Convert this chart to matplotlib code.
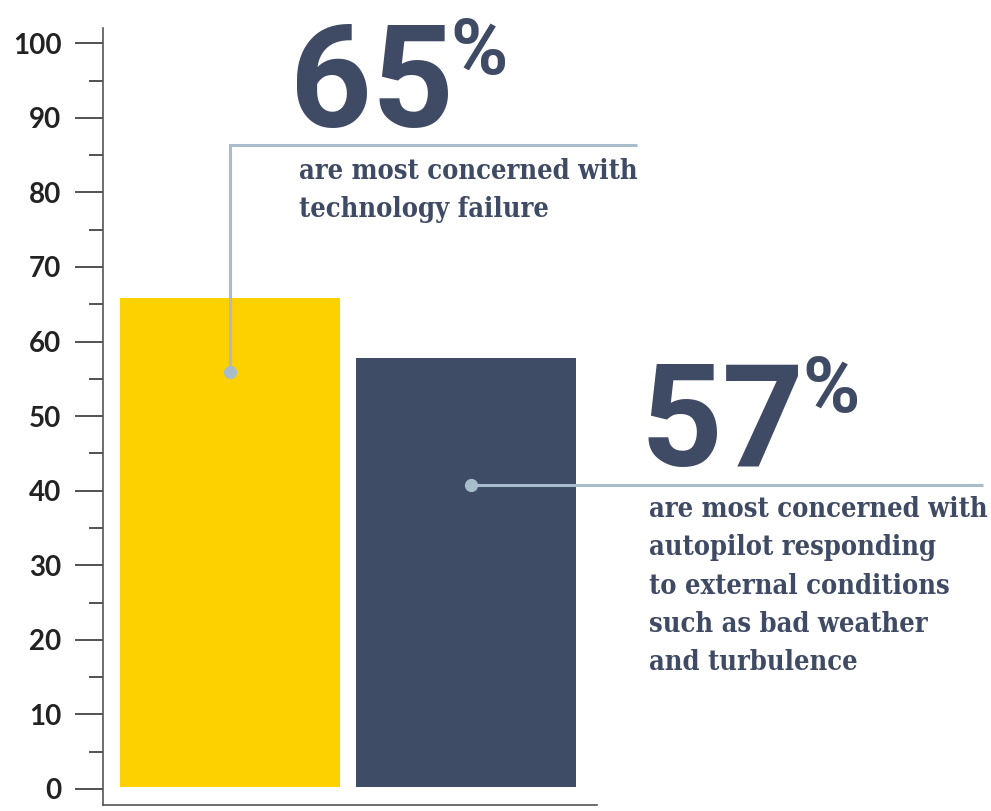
import matplotlib
matplotlib.use("Agg")
import matplotlib.pyplot as plt
from matplotlib.ticker import MultipleLocator

# ---- data ----
categories = ["Technology failure", "Autopilot responding to external conditions"]
values = [65.8, 57.8]
bar_colors = ["#fdd100", "#3f4c66"]
big_labels = ["65", "57"]
captions = [
    "are most concerned with\ntechnology failure",
    "are most concerned with\nautopilot responding\nto external conditions\nsuch as bad weather\nand turbulence",
]
y_ticks = list(range(0, 101, 10))

W, H = 991, 811
fig = plt.figure(figsize=(W / 100, H / 100), dpi=100)
fig.patch.set_facecolor("white")

def fx(x):
    return x / W

def fy(y):
    return 1 - y / H

ax = fig.add_axes([fx(103), fy(805), fx(597) - fx(103), fy(28) - fy(805)])
ax.set_xlim(-0.538, 1.555)
ax.set_ylim(-2.15, 102.05)

base = 0.3
xs = list(range(len(values)))
ax.bar(xs, [v - base for v in values], bottom=base, width=0.932, color=bar_colors, zorder=2)

for s in ["top", "right"]:
    ax.spines[s].set_visible(False)
for s in ["left", "bottom"]:
    ax.spines[s].set_color("#555555")
    ax.spines[s].set_linewidth(1.2)

ax.set_xticks([])
ax.set_yticks(y_ticks)
ax.yaxis.set_minor_locator(MultipleLocator(5))
ax.tick_params(axis="y", which="major", length=20, width=1.2, color="#333333", pad=10,
               labelsize=20, labelcolor="#222222")
ax.tick_params(axis="y", which="minor", length=10, width=1.2, color="#333333")
for lab in ax.get_yticklabels():
    lab.set_fontfamily(["Lato", "DejaVu Sans"])
    lab.set_fontweight("bold")

line_col = "#a8bccb"
text_col = "#3f4a64"

ax_to_fig = ax.transData + fig.transFigure.inverted()
d1 = ax_to_fig.transform((xs[0], 55.9))
d2 = ax_to_fig.transform((xs[1] + 0.02, 40.7))

fig.add_artist(plt.Line2D([d1[0], d1[0], fx(637)], [d1[1], fy(145), fy(145)],
                          color=line_col, lw=2.2, solid_joinstyle="miter", solid_capstyle="butt"))
fig.add_artist(plt.Line2D([d1[0]], [d1[1]], marker="o", ms=8.5, color=line_col, mec=line_col))
fig.add_artist(plt.Line2D([d2[0], fx(983)], [d2[1], d2[1]],
                          color=line_col, lw=2.2, solid_capstyle="butt"))
fig.add_artist(plt.Line2D([d2[0]], [d2[1]], marker="o", ms=8.5, color=line_col, mec=line_col))

big_font = ["Roboto", "DejaVu Sans"]
cap_font = "DejaVu Serif"

renderer = fig.canvas.get_renderer()

def big_number(x, y_base, label, pct_base):
    t = fig.text(fx(x), fy(y_base), label, fontsize=103, fontweight="bold",
                 family=big_font, color=text_col, ha="left", va="baseline")
    bb = t.get_window_extent(renderer)
    fig.text((bb.x1 - 3) / W, fy(pct_base), "%", fontsize=56, fontweight="bold",
             family=big_font, color=text_col, ha="left", va="baseline")

big_number(290, 127, big_labels[0], 74)
big_number(641, 466, big_labels[1], 412)

# captions
fig.text(fx(299), fy(158), captions[0], fontsize=19.5, fontweight="bold",
         family=cap_font, fontstretch="condensed", color=text_col,
         ha="left", va="top", linespacing=1.54)
fig.text(fx(649), fy(496), captions[1], fontsize=19.5, fontweight="bold",
         family=cap_font, fontstretch="condensed", color=text_col,
         ha="left", va="top", linespacing=1.54)

fig.savefig("out.png", dpi=100)
